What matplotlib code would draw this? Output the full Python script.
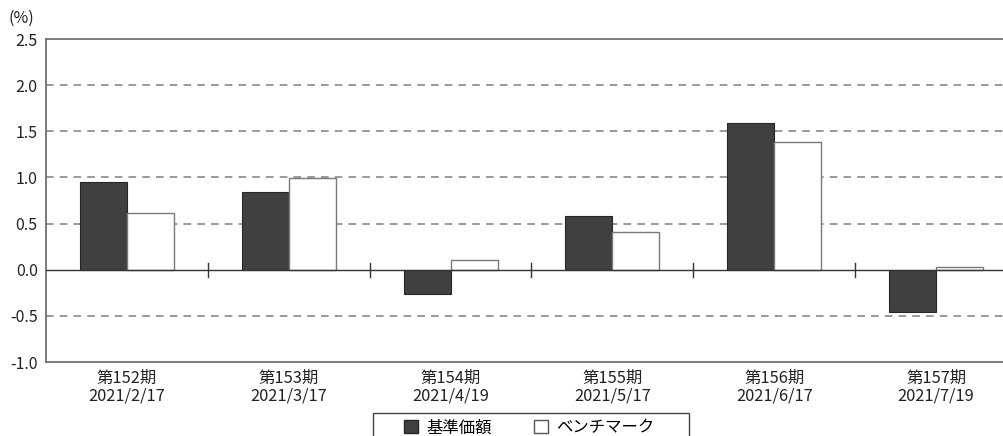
import matplotlib
matplotlib.use("Agg")
import matplotlib.pyplot as plt
import numpy as np
from matplotlib.patches import Patch, Rectangle

plt.rcParams['font.family'] = ['Noto Sans CJK JP', 'DejaVu Sans']

periods = ["第152期", "第153期", "第154期", "第155期", "第156期", "第157期"]
dates = ["2021/2/17", "2021/3/17", "2021/4/19", "2021/5/17", "2021/6/17", "2021/7/19"]
fund = [0.95, 0.84, -0.26, 0.58, 1.59, -0.46]
bench = [0.61, 0.99, 0.11, 0.41, 1.38, 0.03]
yticks = [-1.0, -0.5, 0.0, 0.5, 1.0, 1.5, 2.0, 2.5]
series_names = ["基準価額", "ベンチマーク"]

W, H = 1004, 436
fig = plt.figure(figsize=(W / 100, H / 100), dpi=100)
left, right, top, bottom = 46, 1017, 39, 362
ax = fig.add_axes([left / W, 1 - bottom / H, (right - left) / W, (bottom - top) / H])

x = np.arange(len(periods))
bw = 0.29
ax.bar(x - bw / 2, fund, bw, color="#404040", edgecolor="#262626", linewidth=0.8, zorder=3)
ax.bar(x + bw / 2, bench, bw, color="white", edgecolor="#7a7a7a", linewidth=1.0, zorder=3)

ax.set_xlim(-0.5, len(periods) - 0.5)
ax.set_ylim(-1.0, 2.5)
ax.set_yticks(yticks)
ax.set_yticklabels([f"{v:.1f}" for v in yticks], fontsize=11.5, color="#222222")
for v in yticks:
    if v not in (0.0, -1.0, 2.5):
        ax.axhline(v, color="#7f7f7f", linestyle=(0, (5, 4)), linewidth=1.1, zorder=1)
ax.axhline(0, color="#333333", linewidth=1.0, zorder=4)

# separators crossing the zero line
for b in x[:-1] + 0.5:
    ax.plot([b, b], [-0.075, 0.075], color="#333333", linewidth=1.0, zorder=4, clip_on=False)

ax.set_xticks(x)
ax.set_xticklabels([f"{p}\n{d}" for p, d in zip(periods, dates)], fontsize=11.8,
                   color="#222222", linespacing=1.0)
ax.tick_params(axis="both", length=0, pad=6)
for s in ["left", "bottom", "top"]:
    ax.spines[s].set_color("#666666")
    ax.spines[s].set_linewidth(1.2)
ax.spines["right"].set_visible(False)

fig.text(8 / W, 1 - 18 / H, "(%)", fontsize=11.5, va="center", ha="left", color="#222222")

# legend box (cut by the bottom edge as in the reference)
fig.patches.append(Rectangle((373 / W, -10 / H), (689 - 373) / W, (H - 413 + 10) / H,
                             transform=fig.transFigure, facecolor="white",
                             edgecolor="#444444", linewidth=1.0, zorder=5))
handles = [Patch(facecolor="#404040", edgecolor="#262626"),
           Patch(facecolor="white", edgecolor="#555555")]
leg = fig.legend(handles, series_names, loc="center left",
                 bbox_to_anchor=(404 / W, 1 - 428 / H), ncol=2, fontsize=11.8,
                 frameon=False, handlelength=0.85, handleheight=0.85, handletextpad=0.5,
                 columnspacing=2.6, borderpad=0, borderaxespad=0)
leg.set_zorder(6)

fig.savefig("out.png", dpi=100)
